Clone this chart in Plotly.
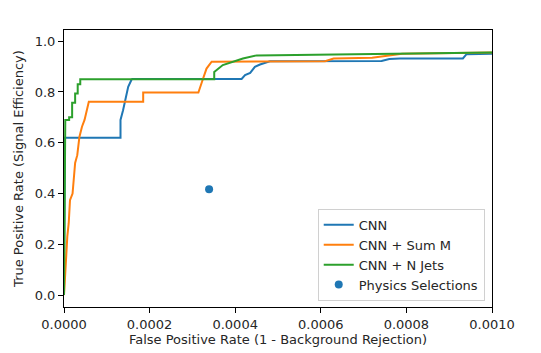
import plotly.graph_objects as go

# CNN
cnn_fpr = [0, 0.000002, 0.000002, 0.000132, 0.000132, 0.000138, 0.000144, 0.000150, 0.000158, 0.000160,
           0.000415, 0.000423, 0.000435, 0.000446, 0.000458, 0.000481, 0.000742, 0.000760, 0.000785,
           0.000932, 0.000940, 0.001]
cnn_tpr = [0, 0.446, 0.62, 0.62, 0.69, 0.728, 0.78, 0.82, 0.849, 0.851,
           0.851, 0.866, 0.875, 0.899, 0.908, 0.921, 0.922, 0.930, 0.932,
           0.932, 0.948, 0.950]

# CNN + Sum M
summ_fpr = [0, 0.000001, 0.0000047, 0.0000077, 0.000011, 0.000014, 0.000020, 0.000026, 0.000031,
            0.000036, 0.000042, 0.000048, 0.000053, 0.000058, 0.000185, 0.000185, 0.000314,
            0.000318, 0.000325, 0.000333, 0.000341, 0.000345, 0.000610, 0.000630, 0.000720,
            0.000790, 0.001]
summ_tpr = [0, 0.047, 0.138, 0.23, 0.283, 0.374, 0.40, 0.52, 0.551,
            0.623, 0.663, 0.69, 0.728, 0.761, 0.761, 0.798, 0.798,
            0.82, 0.853, 0.892, 0.912, 0.919, 0.921, 0.932, 0.935,
            0.950, 0.955]

# CNN + N Jets
njets_fpr = [0, 0.000003, 0.000003, 0.000012, 0.000012, 0.000019, 0.000019, 0.000026, 0.000026,
             0.000032, 0.000032, 0.000038, 0.000038, 0.000351, 0.000351, 0.000371, 0.000404,
             0.000418, 0.000450, 0.000600, 0.000850, 0.001]
njets_tpr = [0, 0.53, 0.69, 0.69, 0.70, 0.70, 0.757, 0.757, 0.794,
             0.794, 0.83, 0.83, 0.85, 0.85, 0.879, 0.906, 0.923,
             0.932, 0.944, 0.947, 0.951, 0.955]

# Physics Selections
phys_fpr = [0.000339]
phys_tpr = [0.417]

x_ticks = [0, 0.0002, 0.0004, 0.0006, 0.0008, 0.001]
x_tick_labels = ["0.0000", "0.0002", "0.0004", "0.0006", "0.0008", "0.0010"]
y_ticks = [0, 0.2, 0.4, 0.6, 0.8, 1.0]
y_tick_labels = ["0.0", "0.2", "0.4", "0.6", "0.8", "1.0"]

FONT = dict(family="DejaVu Sans", size=13, color="#262626")

fig = go.Figure()
fig.add_trace(go.Scatter(x=cnn_fpr, y=cnn_tpr, mode="lines", name="CNN",
                         line=dict(color="#1f77b4", width=2)))
fig.add_trace(go.Scatter(x=summ_fpr, y=summ_tpr, mode="lines", name="CNN + Sum M",
                         line=dict(color="#ff7f0e", width=2)))
fig.add_trace(go.Scatter(x=njets_fpr, y=njets_tpr, mode="lines", name="CNN + N Jets",
                         line=dict(color="#2ca02c", width=2)))
fig.add_trace(go.Scatter(x=phys_fpr, y=phys_tpr, mode="markers", name="Physics Selections",
                         marker=dict(color="#1f77b4", size=8)))

axis_common = dict(showgrid=False, zeroline=False, showline=True, linecolor="black",
                   linewidth=1, mirror=True, ticks="outside", ticklen=5, tickcolor="black",
                   tickfont=FONT, automargin=False)
fig.update_xaxes(range=[0, 0.001], tickvals=x_ticks, ticktext=x_tick_labels,
                 title=dict(text="False Positive Rate (1 - Background Rejection)",
                            font=FONT, standoff=4),
                 **axis_common)
fig.update_yaxes(range=[-0.047, 1.044], tickvals=y_ticks, ticktext=y_tick_labels,
                 title=dict(text="True Positive Rate (Signal Efficiency)",
                            font=FONT, standoff=8),
                 **axis_common)
fig.update_layout(
    width=541, height=353,
    margin=dict(l=64, r=49, t=30, b=46),
    paper_bgcolor="white", plot_bgcolor="white",
    font=FONT,
    legend=dict(x=0.983, y=0.022, xanchor="right", yanchor="bottom",
                bgcolor="rgba(255,255,255,0.9)", bordercolor="#d0d0d0", borderwidth=1,
                font=FONT, tracegroupgap=0, itemwidth=30),
    showlegend=True,
)
fig.write_html("out.html", config={"displayModeBar": False},
               post_script="document.body.style.margin='0';document.body.style.padding='0';")
